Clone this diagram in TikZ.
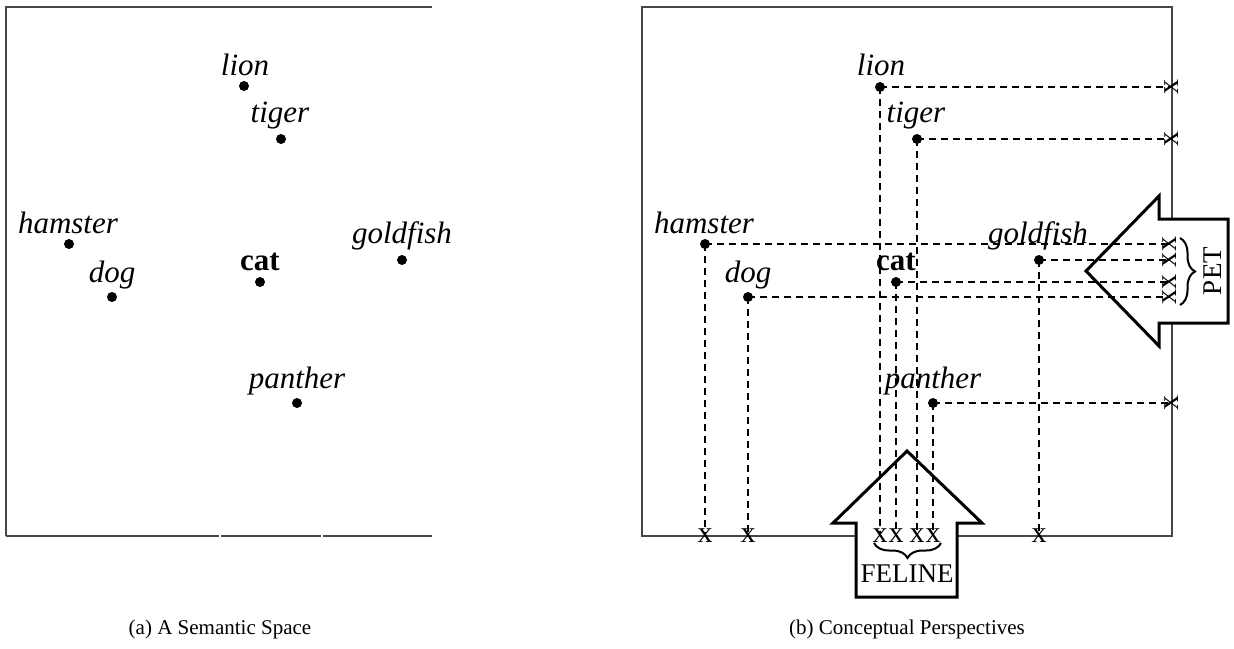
\documentclass[tikz,border=0pt]{standalone}
\usepackage{fontspec}
\setmainfont{Liberation Serif}
\usetikzlibrary{decorations.pathreplacing}
\begin{document}
\begin{tikzpicture}[x=0.5pt,y=-0.5pt,
  frame/.style={draw=black!72,line width=0.9pt},
  dot/.style={circle,fill=black,inner sep=0pt,minimum size=5pt},
  lbl/.style={anchor=base,inner sep=0pt,font=\fontsize{15.5}{18}\selectfont\itshape},
  catlbl/.style={anchor=base,inner sep=0pt,font=\fontsize{15.5}{18}\selectfont\bfseries},
  dline/.style={line width=0.85pt,dash pattern=on 3.5pt off 2.5pt},
  xmark/.style={inner sep=0pt,font=\fontsize{15}{15}\selectfont},
  bigarrow/.style={draw=black,fill=white,line width=1.5pt,line join=miter},
  brc/.style={decorate,decoration={brace,amplitude=7.5pt},line width=1pt},
  captxt/.style={anchor=base,inner sep=0pt,font=\fontsize{10.5}{12}\selectfont},
  perlbl/.style={inner sep=0pt,font=\fontsize{13.5}{16}\selectfont}]
\useasboundingbox (0,0) rectangle (1234,648);

% ---------- panel (a) ----------
\draw[frame] (6,536) -- (6,7) -- (432,7);
\draw[frame] (6,536) -- (219,536);
\draw[frame] (221,536) -- (321,536);
\draw[frame] (323,536) -- (432,536);

\node[dot] (lionA) at (244,86) {};
\node[dot] (tigerA) at (281,139) {};
\node[dot] (hamsterA) at (69,244) {};
\node[dot] (dogA) at (112,297) {};
\node[dot] (catA) at (260,282) {};
\node[dot] (goldfishA) at (402,260) {};
\node[dot] (pantherA) at (297,403) {};

\node[lbl] (lionAl) at (245,75) {lion};
\node[lbl] (tigerAl) at (280,122) {tiger};
\node[lbl] (hamsterAl) at (68,233) {hamster};
\node[lbl] (dogAl) at (112,282) {dog};
\node[catlbl] (catAl) at (260,270) {cat};
\node[lbl] (goldfishAl) at (402,243) {goldfish};
\node[lbl] (pantherAl) at (297,388) {panther};

\node[captxt] (capA) at (220,634) {(a) A Semantic Space};

% ---------- panel (b) ----------
\draw[frame] (642,7) rectangle (1172,536);

% arrows (white filled, under dashed lines)
\draw[bigarrow] (907,451) -- (982,523) -- (957,523) -- (957,597) -- (856,597) -- (856,523) -- (833,523) -- cycle;
\draw[bigarrow] (1086,271) -- (1159,196) -- (1159,219) -- (1228,219) -- (1228,323) -- (1159,323) -- (1159,346) -- cycle;

\node[dot] (lionB) at (880,87) {};
\node[dot] (tigerB) at (917,139) {};
\node[dot] (hamsterB) at (705,244) {};
\node[dot] (dogB) at (748,297) {};
\node[dot] (catB) at (896,282) {};
\node[dot] (goldfishB) at (1039,260) {};
\node[dot] (pantherB) at (933,403) {};

\node[lbl] (lionBl) at (881,75) {lion};
\node[lbl] (tigerBl) at (916,122) {tiger};
\node[lbl] (hamsterBl) at (704,233) {hamster};
\node[lbl] (dogBl) at (748,282) {dog};
\node[catlbl] (catBl) at (896,270) {cat};
\node[lbl] (goldfishBl) at (1038,243) {goldfish};
\node[lbl] (pantherBl) at (933,388) {panther};

% end points: bottom edge
\coordinate (lionD) at (880,536);
\coordinate (tigerD) at (917,536);
\coordinate (hamsterD) at (705,536);
\coordinate (dogD) at (748,536);
\coordinate (catD) at (896,536);
\coordinate (goldfishD) at (1039,536);
\coordinate (pantherD) at (933,536);
% end points: right edge
\coordinate (lionR) at (1172,87);
\coordinate (tigerR) at (1172,139);
\coordinate (pantherR) at (1172,403);
\coordinate (hamsterR) at (1170,244);
\coordinate (goldfishR) at (1170,260);
\coordinate (catR) at (1170,282);
\coordinate (dogR) at (1170,297);

\foreach \n in {lion,tiger,hamster,dog,cat,goldfish,panther}{
  \draw[dline] (\n B.center) -- (\n D);
  \draw[dline] (\n B.center) -- (\n R);
}
\foreach \n in {lion,tiger,hamster,dog,cat,goldfish,panther}{
  \node[xmark] (\n Dx) at (\n D) {x};
  \node[xmark,rotate=90] (\n Rx) at (\n R) {x};
}

% braces and labels
\coordinate (felL) at (874,543);
\coordinate (felR) at (941,543);
\draw[brc] (felR) -- (felL);
\node[perlbl] (feline) at (907,574) {FELINE};

\coordinate (petT) at (1180,238);
\coordinate (petB) at (1180,305);
\draw[brc] (petT) -- (petB);
\node[perlbl,rotate=90] (pet) at (1213,271) {PET};

\node[captxt] (capB) at (907,634) {(b) Conceptual Perspectives};
\end{tikzpicture}
\end{document}
